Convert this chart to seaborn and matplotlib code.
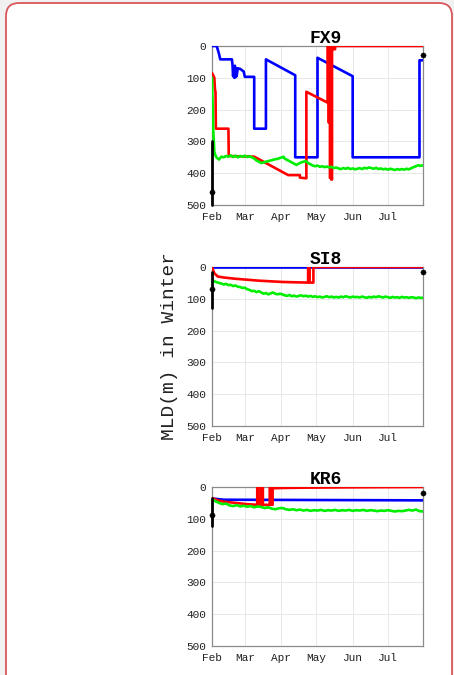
import matplotlib
matplotlib.use("Agg")
import matplotlib.pyplot as plt
import seaborn as sns
import pandas as pd
from matplotlib.patches import FancyBboxPatch
from matplotlib.transforms import IdentityTransform

# ---------------- data (x = days since 1 Feb, y = MLD in m) ----------------
months = ["Feb", "Mar", "Apr", "May", "Jun", "Jul"]
month_start_days = [0, 28, 59, 89, 120, 150]
depth_ticks = [0, 100, 200, 300, 400, 500]
station_names = ["FX9", "SI8", "KR6"]

# FX9
fx9_blue_day = [0, 4, 6, 7, 17, 17.5, 18, 18.5, 19, 19.5, 20, 20.5, 21, 22, 24, 27, 28, 36, 36, 46, 46, 71, 71, 90, 90, 120, 120, 177, 177, 180]
fx9_blue_mld = [0, 0, 25, 42, 42, 60, 95, 68, 100, 62, 98, 70, 95, 70, 72, 80, 97, 97, 260, 260, 42, 92, 350, 350, 37, 95, 350, 350, 45, 45]
fx9_red_day = [0, 1, 2, 2.5, 3, 3.3, 14, 14.3, 36, 65, 75, 75, 80.5, 80.5, 98.6, 98.6, 99.4, 99.4, 100, 100, 100.6, 100.6, 101.2, 101.2, 101.8, 101.8, 102.4, 102.4, 103.4, 103.4, 105, 105, 110, 110, 180]
fx9_red_mld = [85, 92, 100, 135, 145, 260, 260, 346, 348, 406, 406, 414, 416, 144, 178, 0, 0, 240, 240, 0, 0, 415, 415, 0, 0, 420, 420, 2, 2, 10, 10, 0, 0, 0, 0]
fx9_green_day = [0, 1, 2, 3, 4, 6, 8, 10, 12, 14, 16, 18, 20, 22, 24, 26, 28, 30, 32, 34, 36, 38, 40, 42, 44, 46, 48, 50, 52, 54, 56, 58, 60, 61, 62, 64, 66, 68, 70, 72, 74, 76, 78, 80, 82, 84, 86, 88, 90, 92, 94, 96, 98, 100, 102, 104, 106, 108, 110, 112, 114, 116, 118, 120, 122, 124, 126, 128, 130, 132, 134, 136, 138, 140, 142, 144, 146, 148, 150, 152, 154, 156, 158, 160, 162, 164, 166, 168, 170, 172, 174, 176, 178, 180]
fx9_green_mld = [100, 260, 333, 345, 351, 357, 348, 350, 346, 348, 344, 349, 345, 350, 346, 348, 345, 349, 347, 350, 354, 360, 364, 368, 366, 364, 362, 360, 358, 356, 355, 352, 350, 348, 354, 358, 362, 366, 370, 374, 370, 366, 364, 362, 368, 372, 376, 378, 376, 380, 378, 381, 379, 382, 380, 384, 382, 385, 387, 384, 386, 383, 387, 385, 388, 386, 384, 387, 383, 385, 382, 384, 386, 383, 387, 385, 388, 386, 389, 386, 388, 390, 387, 389, 387, 389, 386, 388, 384, 381, 378, 375, 377, 375]
fx9_obs_range = [300, 500]
fx9_obs_start = 460
fx9_obs_end = 27

# SI8
si8_blue_day = [0, 180]
si8_blue_mld = [0, 0]
si8_red_day = [0, 2, 5, 10, 20, 30, 40, 50, 60, 70, 82, 82, 83.3, 83.3, 86.5, 86.5, 180]
si8_red_mld = [0, 20, 30, 33, 37, 40, 43, 45, 47, 48, 49, 0, 0, 49, 49, 0, 0]
si8_green_day = [0, 2, 4, 6, 8, 10, 12, 14, 16, 18, 20, 22, 24, 26, 28, 30, 32, 34, 36, 38, 40, 42, 44, 46, 48, 50, 52, 54, 56, 58, 60, 62, 64, 66, 68, 70, 72, 74, 76, 78, 80, 82, 84, 86, 88, 90, 92, 94, 96, 98, 100, 102, 104, 106, 108, 110, 112, 114, 116, 118, 120, 122, 124, 126, 128, 130, 132, 134, 136, 138, 140, 142, 144, 146, 148, 150, 152, 154, 156, 158, 160, 162, 164, 166, 168, 170, 172, 174, 176, 178, 180]
si8_green_mld = [41, 45, 48, 50, 52, 55, 53, 57, 56, 60, 58, 62, 63, 66, 65, 70, 72, 76, 75, 79, 76, 80, 84, 82, 86, 83, 80, 84, 86, 84, 86, 89, 91, 88, 92, 90, 93, 91, 89, 92, 90, 93, 91, 94, 92, 95, 93, 96, 94, 92, 95, 93, 96, 94, 96, 93, 95, 92, 94, 96, 93, 95, 94, 96, 93, 95, 97, 94, 96, 93, 95, 92, 94, 96, 93, 95, 97, 94, 96, 95, 97, 94, 96, 95, 97, 95, 96, 98, 96, 97, 97]
si8_obs_range = [15, 128]
si8_obs_start = 70
si8_obs_end = 17

# KR6
kr6_blue_day = [0, 10, 180]
kr6_blue_mld = [36, 40, 42]
kr6_red_day = [0, 5, 10, 20, 30, 38.6, 38.6, 39.7, 39.7, 42, 42, 43.4, 43.4, 49.3, 49.3, 49.7, 49.7, 51.7, 51.7, 60, 80, 120, 180]
kr6_red_mld = [35, 42, 46, 50, 54, 56, 0, 0, 56, 56, 0, 0, 56, 56, 0, 0, 56, 56, 4, 3, 2, 1, 0]
kr6_green_day = [0, 3, 6, 9, 12, 15, 18, 21, 24, 27, 30, 33, 36, 39, 42, 45, 48, 51, 54, 57, 60, 63, 66, 69, 72, 75, 78, 81, 84, 87, 90, 93, 96, 99, 102, 105, 108, 111, 114, 117, 120, 123, 126, 129, 132, 135, 138, 141, 144, 147, 150, 153, 156, 159, 162, 165, 168, 171, 174, 177, 180]
kr6_green_mld = [38, 45, 50, 54, 52, 58, 60, 57, 61, 59, 62, 60, 64, 61, 63, 66, 64, 68, 70, 67, 66, 70, 72, 70, 73, 71, 74, 72, 75, 73, 74, 72, 75, 73, 74, 72, 75, 73, 74, 72, 75, 73, 74, 72, 75, 73, 74, 76, 74, 75, 73, 75, 77, 75, 76, 74, 72, 74, 71, 76, 77]
kr6_obs_range = [35, 122]
kr6_obs_start = 87
kr6_obs_end = 20

stations = {
    "FX9": dict(blue=(fx9_blue_day, fx9_blue_mld), red=(fx9_red_day, fx9_red_mld),
                green=(fx9_green_day, fx9_green_mld), obs=(fx9_obs_range, fx9_obs_start, fx9_obs_end)),
    "SI8": dict(blue=(si8_blue_day, si8_blue_mld), red=(si8_red_day, si8_red_mld),
                green=(si8_green_day, si8_green_mld), obs=(si8_obs_range, si8_obs_start, si8_obs_end)),
    "KR6": dict(blue=(kr6_blue_day, kr6_blue_mld), red=(kr6_red_day, kr6_red_mld),
                green=(kr6_green_day, kr6_green_mld), obs=(kr6_obs_range, kr6_obs_start, kr6_obs_end)),
}

# ---------------- style ----------------
sns.set_theme(style="whitegrid")
plt.rcParams["font.family"] = ["Liberation Mono", "DejaVu Sans Mono"]

W, H = 454, 675
fig = plt.figure(figsize=(W / 100, H / 100), dpi=100, facecolor="#f1f1f1")

frame = FancyBboxPatch((6, -30), 446, H - 3 + 30,
                       boxstyle="round,pad=0,rounding_size=13",
                       transform=IdentityTransform(), facecolor="white",
                       edgecolor="#d9575b", lw=1.3, zorder=-10)
fig.patches.append(frame)

axes_tops = [46, 267, 487]
ax_h = 159
ax_left, ax_w = 212, 211

colors = {"blue": "#0000ff", "red": "#ff0000", "green": "#00ee00"}

for name, top in zip(station_names, axes_tops):
    d = stations[name]
    ax = fig.add_axes([ax_left / W, 1 - (top + ax_h) / H, ax_w / W, ax_h / H])
    ax.set_zorder(5)
    ax.set_facecolor("white")
    for key in ["blue", "red", "green"]:
        xs, ys = d[key]
        df = pd.DataFrame({"day": xs, "mld": ys})
        sns.lineplot(data=df, x="day", y="mld", ax=ax, color=colors[key],
                     lw=1.9, estimator=None, sort=False, zorder=3)
    rng, s, e = d["obs"]
    sns.lineplot(x=[0, 0], y=rng, ax=ax, color="black", lw=2.0,
                 estimator=None, sort=False, zorder=4)
    for ln in ax.lines[-1:]:
        ln.set_clip_on(False)
    sns.scatterplot(x=[0, 180], y=[s, e], ax=ax, color="black", s=14,
                    edgecolor="black", zorder=5, clip_on=False)

    ax.set_xlim(0, 180)
    ax.set_ylim(500, 0)
    ax.set_xticks(month_start_days)
    ax.set_xticklabels(months)
    ax.set_yticks(depth_ticks)
    ax.set_yticklabels([str(v) for v in depth_ticks])
    ax.set_xlabel("")
    ax.set_ylabel("")
    ax.grid(True, color="#e8e8e8", lw=0.7)
    ax.tick_params(axis="both", labelsize=8, colors="#222222", direction="in",
                   length=3, width=0.6)
    ax.tick_params(axis="x", pad=5)
    ax.tick_params(axis="y", pad=4)
    ax.tick_params(axis="both", color="#888888")
    for sp in ax.spines.values():
        sp.set_visible(True)
        sp.set_color("#8a8a8a")
        sp.set_linewidth(0.9)
    ax.set_title(name, fontsize=13, fontweight="bold", x=0.54, pad=2, color="black")

fig.text(170 / W, 1 - 346 / H, "MLD(m) in Winter", rotation=90, ha="center",
         va="center", fontsize=14, color="#222222", zorder=6)

fig.savefig("out.png", dpi=100, facecolor=fig.get_facecolor())
